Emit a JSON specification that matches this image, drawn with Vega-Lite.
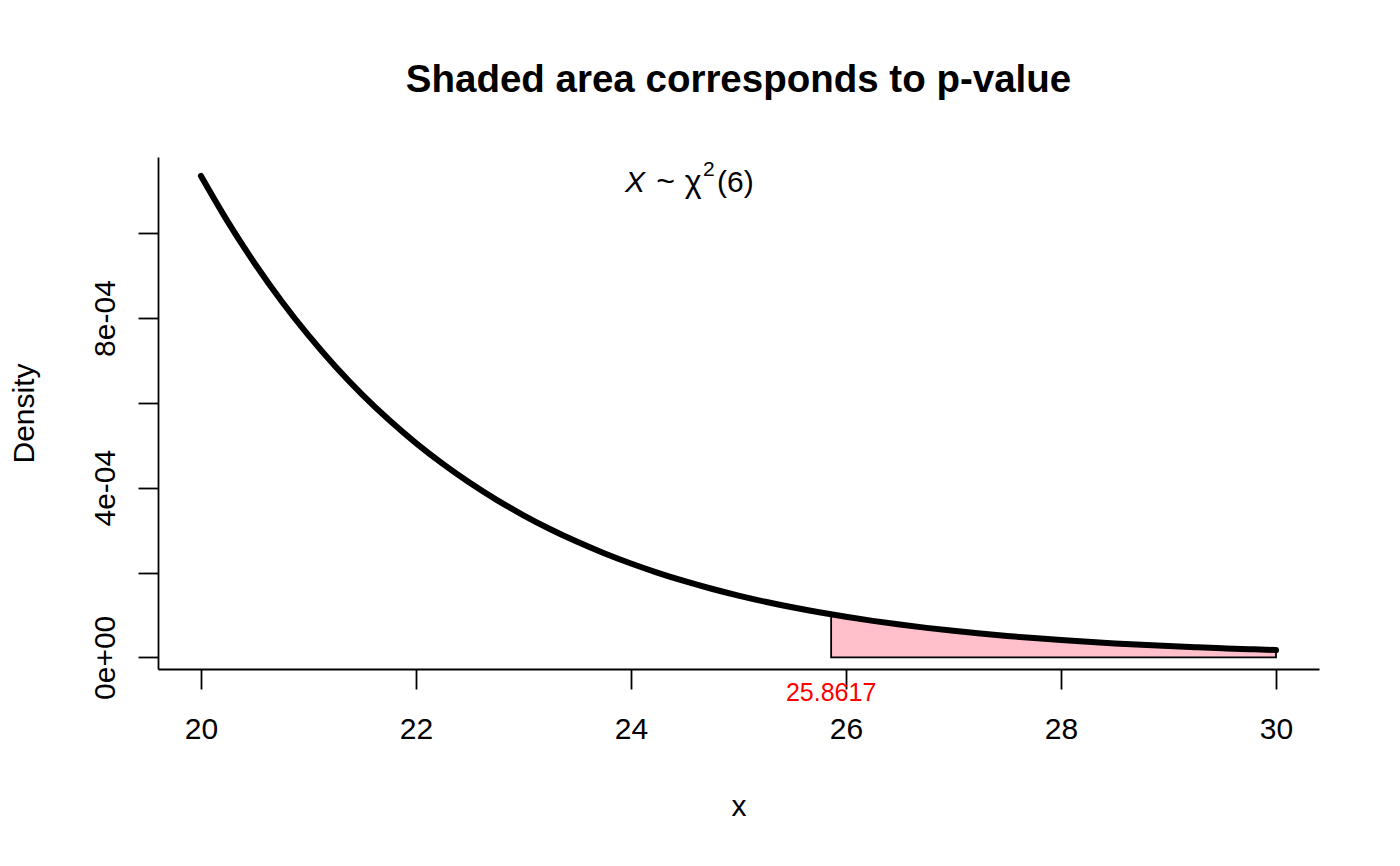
{
  "$schema": "https://vega.github.io/schema/vega-lite/v6.json",
  "width": 1161,
  "height": 512,
  "autosize": {"type": "none"},
  "padding": {"left": 158, "top": 157, "right": 81, "bottom": 197},
  "background": "white",
  "config": {"view": {"stroke": null}, "font": "Liberation Sans"},
  "title": {
    "text": "Shaded area corresponds to p-value",
    "font": "Liberation Sans",
    "fontSize": 38.5,
    "fontWeight": "bold",
    "color": "black",
    "anchor": "middle",
    "frame": "group",
    "baseline": "alphabetic",
    "offset": 27
  },
  "datasets": {
    "curve": [
      {"x": 20, "density": 0.001134998},
      {"x": 20.25, "density": 0.00102683},
      {"x": 20.5, "density": 0.000928684},
      {"x": 20.75, "density": 0.000839674},
      {"x": 21, "density": 0.000758973},
      {"x": 21.25, "density": 0.000685834},
      {"x": 21.5, "density": 0.000619571},
      {"x": 21.75, "density": 0.000559558},
      {"x": 22, "density": 0.000505226},
      {"x": 22.25, "density": 0.000456052},
      {"x": 22.5, "density": 0.000411559},
      {"x": 22.75, "density": 0.000371316},
      {"x": 23, "density": 0.000334926},
      {"x": 23.25, "density": 0.000302032},
      {"x": 23.5, "density": 0.000272305},
      {"x": 23.75, "density": 0.000245449},
      {"x": 24, "density": 0.000221192},
      {"x": 24.25, "density": 0.000199289},
      {"x": 24.5, "density": 0.000179517},
      {"x": 24.75, "density": 0.000161673},
      {"x": 25, "density": 0.000145572},
      {"x": 25.25, "density": 0.000131049},
      {"x": 25.5, "density": 0.000117952},
      {"x": 25.75, "density": 0.000106144},
      {"x": 26, "density": 0.0000954989},
      {"x": 26.25, "density": 0.000085906},
      {"x": 26.5, "density": 0.0000772629},
      {"x": 26.75, "density": 0.0000694768},
      {"x": 27, "density": 0.0000624643},
      {"x": 27.25, "density": 0.0000561501},
      {"x": 27.5, "density": 0.0000504658},
      {"x": 27.75, "density": 0.0000453494},
      {"x": 28, "density": 0.0000407449},
      {"x": 28.25, "density": 0.0000366022},
      {"x": 28.5, "density": 0.0000328756},
      {"x": 28.75, "density": 0.0000295238},
      {"x": 29, "density": 0.0000265098},
      {"x": 29.25, "density": 0.0000237999},
      {"x": 29.5, "density": 0.0000213639},
      {"x": 29.75, "density": 0.0000191745},
      {"x": 30, "density": 0.000017207}
    ],
    "tail": [
      {"x": 25.8617, "density": 0.00010125},
      {"x": 26, "density": 0.0000954989},
      {"x": 26.25, "density": 0.000085906},
      {"x": 26.5, "density": 0.0000772629},
      {"x": 26.75, "density": 0.0000694768},
      {"x": 27, "density": 0.0000624643},
      {"x": 27.25, "density": 0.0000561501},
      {"x": 27.5, "density": 0.0000504658},
      {"x": 27.75, "density": 0.0000453494},
      {"x": 28, "density": 0.0000407449},
      {"x": 28.25, "density": 0.0000366022},
      {"x": 28.5, "density": 0.0000328756},
      {"x": 28.75, "density": 0.0000295238},
      {"x": 29, "density": 0.0000265098},
      {"x": 29.25, "density": 0.0000237999},
      {"x": 29.5, "density": 0.0000213639},
      {"x": 29.75, "density": 0.0000191745},
      {"x": 30, "density": 0.000017207}
    ]
  },
  "layer": [
    {
      "data": {"name": "tail"},
      "mark": {"type": "area", "fill": "#FFC0CB", "stroke": "black", "strokeWidth": 1.8, "interpolate": "monotone"},
      "encoding": {
        "x": {
          "field": "x",
          "type": "quantitative",
          "scale": {"domain": [19.6, 30.4], "nice": false, "zero": false},
          "axis": {
            "values": [20, 22, 24, 26, 28, 30],
            "format": "d",
            "title": "x",
            "grid": false,
            "domainColor": "black",
            "domainWidth": 1.8,
            "tickColor": "black",
            "tickWidth": 1.8,
            "tickSize": 20,
            "labelFont": "Liberation Sans",
            "labelFontSize": 30,
            "labelColor": "black",
            "labelBaseline": "alphabetic",
            "labelPadding": 49,
            "labelFlush": false,
            "labelOverlap": false,
            "titleFont": "Liberation Sans",
            "titleFontSize": 30,
            "titleFontWeight": "normal",
            "titleColor": "black",
            "titleX": 580.5,
            "titleY": 146,
            "titleAlign": "center",
            "titleBaseline": "alphabetic"
          }
        },
        "y": {
          "field": "density",
          "type": "quantitative",
          "scale": {"domain": [-0.000027505, 0.00117971], "nice": false, "zero": false},
          "axis": {
            "values": [0, 0.0002, 0.0004, 0.0006, 0.0008, 0.001],
            "labelExpr": "round(datum.value*10000) == 0 ? '0e+00' : round(datum.value*10000) == 4 ? '4e-04' : round(datum.value*10000) == 8 ? '8e-04' : ''",
            "title": "Density",
            "grid": false,
            "domainColor": "black",
            "domainWidth": 1.8,
            "tickColor": "black",
            "tickWidth": 1.8,
            "tickSize": 20,
            "labelFont": "Liberation Sans",
            "labelFontSize": 30,
            "labelColor": "black",
            "labelAngle": -90,
            "labelAlign": "center",
            "labelBaseline": "alphabetic",
            "labelPadding": 24,
            "labelFlush": false,
            "labelOverlap": false,
            "titleFont": "Liberation Sans",
            "titleFontSize": 30,
            "titleFontWeight": "normal",
            "titleColor": "black",
            "titleAngle": -90,
            "titleX": -125,
            "titleY": 256,
            "titleAlign": "center",
            "titleBaseline": "alphabetic"
          }
        },
        "y2": {"datum": 0}
      }
    },
    {
      "data": {"name": "curve"},
      "mark": {"type": "line", "color": "black", "strokeWidth": 6, "strokeCap": "round", "strokeJoin": "round", "interpolate": "monotone"},
      "encoding": {
        "x": {"field": "x", "type": "quantitative"},
        "y": {"field": "density", "type": "quantitative"}
      }
    },
    {
      "data": {"values": [{}]},
      "mark": {"type": "text", "text": "X", "font": "Liberation Sans", "fontSize": 30, "fontStyle": "italic", "align": "left", "baseline": "alphabetic", "color": "black"},
      "encoding": {"x": {"datum": 23.944}, "y": {"datum": 0.00109719}}
    },
    {
      "data": {"values": [{}]},
      "mark": {"type": "text", "text": "~", "font": "Liberation Sans", "fontSize": 32, "align": "left", "baseline": "alphabetic", "color": "black"},
      "encoding": {"x": {"datum": 24.235}, "y": {"datum": 0.00109719}}
    },
    {
      "data": {"values": [{}]},
      "mark": {"type": "text", "text": "χ", "font": "Liberation Sans", "fontSize": 32, "align": "left", "baseline": "alphabetic", "color": "black"},
      "encoding": {"x": {"datum": 24.5}, "y": {"datum": 0.00109719}}
    },
    {
      "data": {"values": [{}]},
      "mark": {"type": "text", "text": "2", "font": "Liberation Sans", "fontSize": 21, "align": "left", "baseline": "alphabetic", "color": "black"},
      "encoding": {"x": {"datum": 24.67}, "y": {"datum": 0.00113491}}
    },
    {
      "data": {"values": [{}]},
      "mark": {"type": "text", "text": "(6)", "font": "Liberation Sans", "fontSize": 30, "align": "left", "baseline": "alphabetic", "color": "black"},
      "encoding": {"x": {"datum": 24.8}, "y": {"datum": 0.00109719}}
    },
    {
      "data": {"values": [{}]},
      "mark": {"type": "text", "text": "25.8617", "font": "Liberation Sans", "fontSize": 25, "align": "center", "baseline": "alphabetic", "color": "#FF0000"},
      "encoding": {"x": {"datum": 25.8617}, "y": {"datum": -0.00010296}}
    }
  ]
}
